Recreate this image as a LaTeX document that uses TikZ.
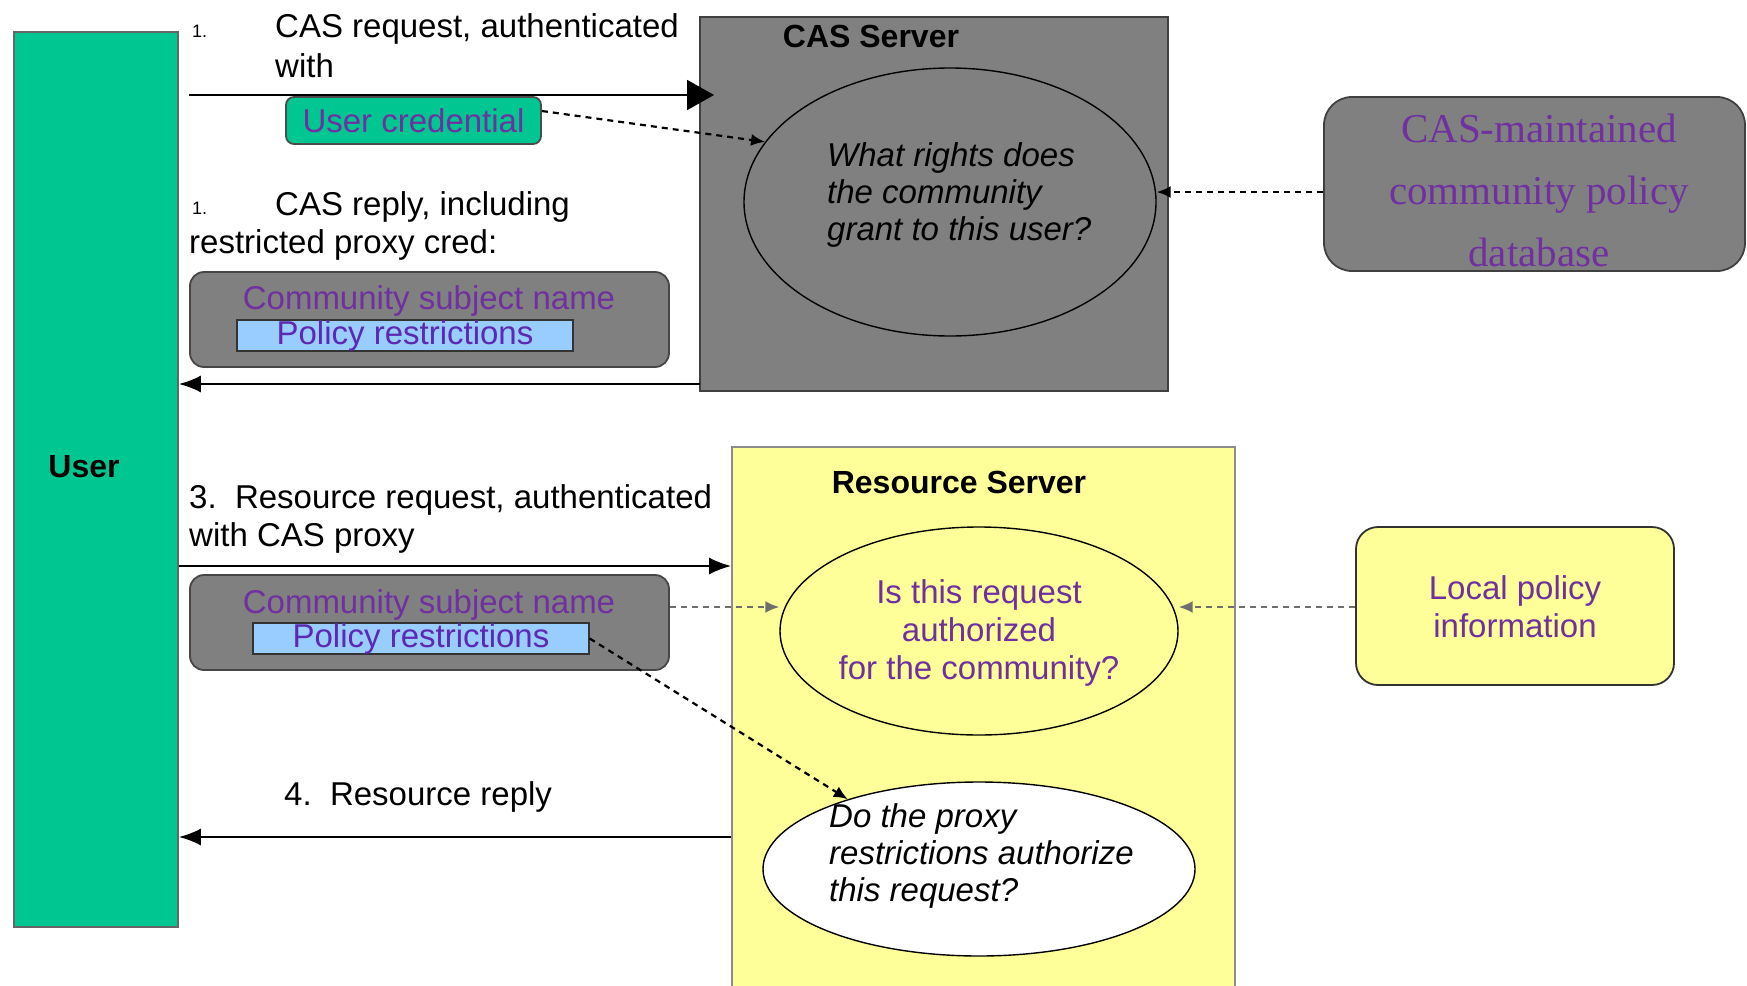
\documentclass[tikz,border=0pt]{standalone}
\usepackage{fontspec}
\setmainfont{Liberation Sans}
\newfontfamily\serifdb{Liberation Serif}
\usetikzlibrary{arrows.meta,shapes.geometric,calc}
\definecolor{usergreen}{RGB}{0,199,146}
\definecolor{boxgray}{RGB}{128,128,128}
\definecolor{edgegray}{RGB}{70,70,70}
\definecolor{txtpurple}{RGB}{112,48,160}
\definecolor{prblue}{RGB}{153,204,255}
\definecolor{ryellow}{RGB}{255,255,153}
\definecolor{prtext}{RGB}{92,40,180}
\definecolor{dashgray}{RGB}{110,110,110}
\begin{document}
\begin{tikzpicture}[x=1pt,y=-1pt,
  txt/.style={font=\fontsize{33}{38}\selectfont, inner sep=0pt, align=left},
  itxt/.style={font=\fontsize{33}{37}\selectfont\itshape, inner sep=0pt, align=left},
  btxt/.style={font=\fontsize{32}{38}\selectfont\bfseries, inner sep=0pt},
  small/.style={font=\fontsize{18}{20}\selectfont, inner sep=0pt},
  ptxt/.style={font=\fontsize{33}{38}\selectfont, text=txtpurple, inner sep=0pt, align=center},
  boxn/.style={rectangle, draw=edgegray, line width=1.8pt, inner sep=0pt},
  credbox/.style={boxn, rounded corners=14pt, fill=boxgray, minimum width=479pt, minimum height=95pt},
  polbox/.style={rectangle, draw=black!80, line width=1.4pt, fill=prblue, minimum width=336pt, minimum height=31pt, inner sep=0pt, text=prtext, font=\fontsize{33}{38}\selectfont},
  question/.style={ellipse, draw=black, line width=1.4pt, inner sep=0pt},
  flow/.style={draw=black, line width=2pt, -{Latex[length=22pt,width=17pt]}},
  dasharrow/.style={draw=black, line width=2.2pt, dash pattern=on 6pt off 5pt, -{Latex[length=14pt,width=12pt]}},
]
\useasboundingbox (0,0) rectangle (1747,985);

% User
\node[boxn, fill=usergreen, draw=black!60, minimum width=164pt, minimum height=895pt] (user) at (96,479.5) {};
\node[btxt] (userlbl) at (84,467) {User};

% CAS server
\node[boxn, fill=boxgray, draw=black!75, minimum width=468pt, minimum height=374pt] (cas) at (934,204) {};
\node[btxt] (castitle) at (871,36) {CAS Server};
\node[question, minimum width=412pt, minimum height=268pt] (q1) at (950,202) {};
\node[itxt, anchor=west] (q1txt) at (827,195) {What rights does\\the community\\grant to this user?};

% CAS-maintained db
\node[boxn, fill=boxgray, draw=black!75, rounded corners=28pt, minimum width=421pt, minimum height=174pt] (policydb) at (1534.5,184) {};
\node[font=\fontsize{41}{62}\selectfont\serifdb, text=txtpurple, align=center, inner sep=0pt] (policydbtxt) at (1539,190) {CAS-maintained\\community policy\\database};

% step 1
\node[small, anchor=west] (n1a) at (192,31) {1.};
\node[txt, anchor=west] (s1a) at (275,29) {CAS request, authenticated};
\node[txt, anchor=west] (s1b) at (275,66) {with};
\coordinate (a1start) at (189,95);
\coordinate (a1end) at (714,95);
\draw[line width=2pt, -{Triangle[length=27pt,width=30pt]}] (a1start) -- (a1end);
\node[boxn, fill=usergreen, draw=black!70, rounded corners=8pt, minimum width=255pt, minimum height=47pt, text=txtpurple, font=\fontsize{33}{38}\selectfont] (ucred) at (413.5,120.5) {User credential};
\draw[dasharrow] (ucred.east |- 0,111) -- (q1.162);

% step 2
\node[small, anchor=west] (n1b) at (192,208) {1.};
\node[txt, anchor=west] (s2a) at (275,207) {CAS reply, including};
\node[txt, anchor=west] (s2b) at (189,245) {restricted proxy cred:};
\node[credbox] (cred1) at (429.5,319.5) {};
\node[ptxt] (csn1) at (429,301) {Community subject name};
\node[polbox] (pr1) at (405,335.5) {Policy restrictions};
\coordinate (r2) at (700,384);
\draw[flow] (r2) -- (user.east |- r2);

\draw[dasharrow] (policydb.west |- 0,192) -- (q1.east |- 0,192);

% Resource server
\node[boxn, fill=ryellow, draw=black!45, minimum width=503pt, minimum height=543pt] (rs) at (983.5,718.5) {};
\node[btxt] (rstitle) at (959,482) {Resource Server};
\node[question, fill=ryellow, minimum width=398pt, minimum height=208pt] (q2) at (979,631) {};
\node[ptxt] (q2txt) at (979,633) {Is this request\\authorized\\for the community?};
\node[question, fill=white, minimum width=432pt, minimum height=174pt] (q3) at (979,869) {};
\node[itxt, anchor=west] (q3txt) at (829,856) {Do the proxy\\restrictions authorize\\this request?};

% Local policy
\node[boxn, fill=ryellow, draw=black!80, rounded corners=22pt, minimum width=318pt, minimum height=158pt] (localpol) at (1515,606) {};
\node[ptxt] (localtxt) at (1515,607) {Local policy\\information};
\draw[dasharrow, draw=dashgray] (localpol.west |- 0,607) -- (q2.east |- 0,607);

% step 3
\node[txt, anchor=west] (s3) at (189,519) {3.\ \ Resource request, authenticated\\with CAS proxy};
\coordinate (r3) at (176,566);
\draw[flow] (user.east |- r3) -- (rs.west |- r3);
\node[credbox] (cred2) at (429.5,622.5) {};
\node[ptxt] (csn2) at (429,605) {Community subject name};
\node[polbox] (pr2) at (421,638.5) {Policy restrictions};
\draw[dasharrow, draw=dashgray] (cred2.east |- 0,607) -- (q2.west |- 0,607);
\draw[dasharrow] (pr2.east) -- (q3.152);

% step 4
\node[txt, anchor=west] (s4) at (284,797) {4.\ \ Resource reply};
\coordinate (r4) at (732,837);
\draw[flow] (rs.west |- r4) -- (user.east |- r4);
\end{tikzpicture}
\end{document}
